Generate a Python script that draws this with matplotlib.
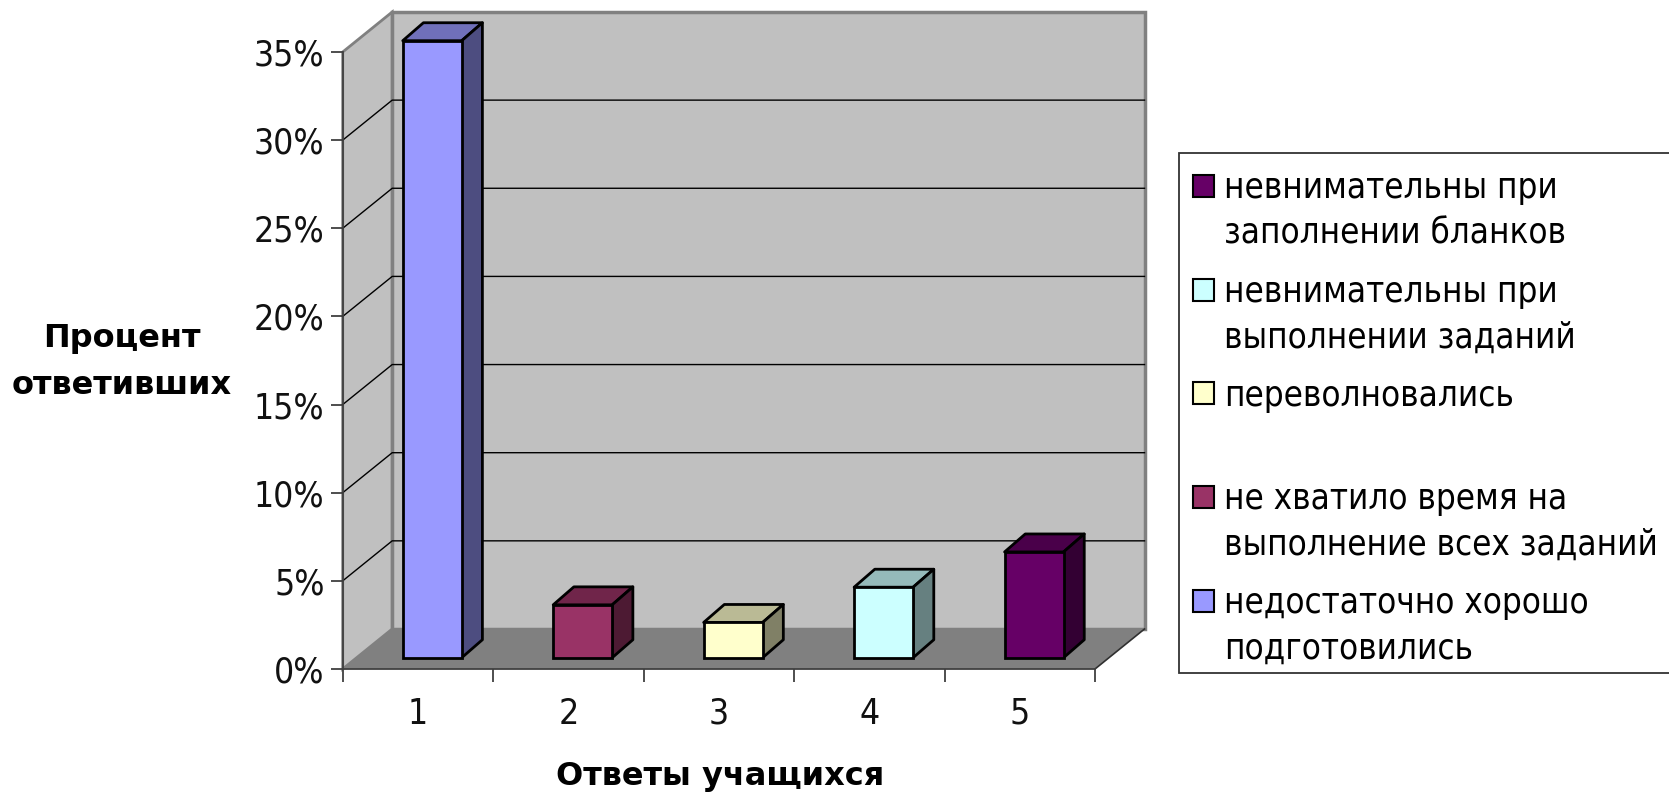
import numpy as np
import matplotlib
matplotlib.use('Agg')
import matplotlib.pyplot as plt
from matplotlib.colors import to_rgb
from matplotlib.font_manager import FontProperties
from matplotlib.legend_handler import HandlerPatch
from matplotlib.patches import Patch, Polygon, Rectangle

# Values
categories = [1, 2, 3, 4, 5]
values = [35, 3, 2, 4, 6]
bar_colors = ['#9999FF', '#993366', '#FFFFCC', '#CCFFFF', '#660066']
legend_labels = ['недостаточно хорошо\nподготовились',
                 'не хватило время на\nвыполнение всех заданий',
                 'переволновались\n ',
                 'невнимательны при\nвыполнении заданий',
                 'невнимательны при\nзаполнении бланков']
y_ticks = [0, 5, 10, 15, 20, 25, 30, 35]

W, H = 1669, 794
plt.rcParams['font.family'] = ['DejaVu Sans']
thin_font = FontProperties(family='DejaVu Sans', stretch='condensed', size=25.5)
legend_font = FontProperties(family='DejaVu Sans', stretch='condensed', size=25)

fig = plt.figure(figsize=(W / 100, H / 100), dpi=100)
ax = fig.add_axes([342.7 / W, 1 - 669 / H, (1095 - 342.7) / W, (669 - 52) / H])
ax.set_xlim(0, 5)
ax.set_ylim(0, 35)
ax.patch.set_visible(False)

# depth of the fake 3D box, in data units
wall_dx, wall_dy = 0.329, 2.27
bar_dx, bar_dy = 0.1375, 1.02
bar_shift, bar_lift = 0.095, 0.64
bar_width = 0.392
top = y_ticks[-1]


def add_poly(points, **kw):
    ax.add_patch(Polygon(points, closed=True, clip_on=False, **kw))


# walls and floor
add_poly([(0, 0), (wall_dx, wall_dy), (wall_dx, top + wall_dy), (0, top)],
         facecolor='#C0C0C0', edgecolor='#808080', lw=2, zorder=1)
add_poly([(wall_dx, wall_dy), (5 + wall_dx, wall_dy), (5 + wall_dx, top + wall_dy), (wall_dx, top + wall_dy)],
         facecolor='#C0C0C0', edgecolor='#808080', lw=2.5, zorder=1)
add_poly([(0, 0), (wall_dx, wall_dy), (5 + wall_dx, wall_dy), (5, 0)],
         facecolor='#808080', edgecolor='none', zorder=2)

# gridlines, back wall plus the diagonal on the side wall
for t in y_ticks[1:-1]:
    ax.plot([0, wall_dx, 5 + wall_dx], [t, t + wall_dy, t + wall_dy],
            color='black', lw=1, clip_on=False, zorder=2)
ax.plot([5, 5 + wall_dx], [0, wall_dy], color='#303030', lw=1.2, clip_on=False, zorder=3)

# bars
x = np.array(categories) - 0.5 + bar_shift
ax.bar(x, values, width=bar_width, bottom=bar_lift, color=bar_colors,
       edgecolor='black', linewidth=2, zorder=5, clip_on=False)
for xi, v, c in zip(x, values, bar_colors):
    rgb = np.array(to_rgb(c))
    l, r = xi - bar_width / 2, xi + bar_width / 2
    b, t = bar_lift, bar_lift + v
    add_poly([(l, t), (r, t), (r + bar_dx, t + bar_dy), (l + bar_dx, t + bar_dy)],
             facecolor=rgb * 0.73, edgecolor='black', lw=2, joinstyle='round', zorder=4)
    add_poly([(r, b), (r + bar_dx, b + bar_dy), (r + bar_dx, t + bar_dy), (r, t)],
             facecolor=rgb * 0.5, edgecolor='black', lw=2, joinstyle='round', zorder=4)

# axes
for side in ['top', 'right']:
    ax.spines[side].set_visible(False)
for side in ['left', 'bottom']:
    ax.spines[side].set_color('#404040')
    ax.spines[side].set_linewidth(1.3)
    ax.spines[side].set_zorder(3)
ax.set_yticks(y_ticks)
ax.set_yticklabels([f'{t}%' for t in y_ticks], fontproperties=thin_font, color='#111111')
ax.set_xticks(range(6))
ax.set_xticklabels([])
ax.set_xticks(np.array(categories) - 0.5, minor=True)
ax.set_xticklabels(categories, minor=True, fontproperties=thin_font, color='#111111')
ax.tick_params(axis='y', length=9, width=1.3, color='#404040', pad=4)
ax.tick_params(axis='x', which='major', length=9, width=1.3, color='#404040')
ax.tick_params(axis='x', which='minor', length=0, pad=20)

ax.set_xlabel('Ответы учащихся', fontsize=23, fontweight='bold')
ax.xaxis.set_label_coords((720 - 342.7) / (1095 - 342.7), -(776 - 669) / (669 - 52))
ax.xaxis.label.set_va('center')
ax.set_ylabel('Процент\nответивших', fontsize=23, fontweight='bold', rotation=0,
              ha='center', va='center', linespacing=1.63)
ax.yaxis.set_label_coords((122 - 342.7) / (1095 - 342.7), (669 - 362) / (669 - 52))


# the swatch sits on the first line of a two-line entry
class FirstLinePatch(HandlerPatch):
    def create_artists(self, legend, orig_handle, xdescent, ydescent, width, height, fontsize, trans):
        return super().create_artists(legend, orig_handle, xdescent, ydescent - 19, width, height, fontsize, trans)


# legend frame runs off the right edge of the picture, so it is drawn on its own
fig.add_artist(Rectangle((1179 / W, 1 - 673 / H), 600 / W, 520 / H, transform=fig.transFigure,
                         facecolor='white', edgecolor='#333333', linewidth=1.3))
handles = [Patch(facecolor=c, edgecolor='black', linewidth=1.5) for c in bar_colors]
leg = fig.legend(handles[::-1], legend_labels[::-1], loc='upper left',
                 bbox_to_anchor=(1179 / W, 1 - 157.3 / H), bbox_transform=fig.transFigure,
                 borderaxespad=0, frameon=False,
                 prop=legend_font, handlelength=0.6, handleheight=0.6, handletextpad=0.3,
                 labelspacing=0.695, borderpad=0.4,
                 handler_map={Patch: FirstLinePatch()})
for txt in leg.get_texts():
    txt.set_linespacing(1.43)

fig.savefig('out.png', dpi=100)
